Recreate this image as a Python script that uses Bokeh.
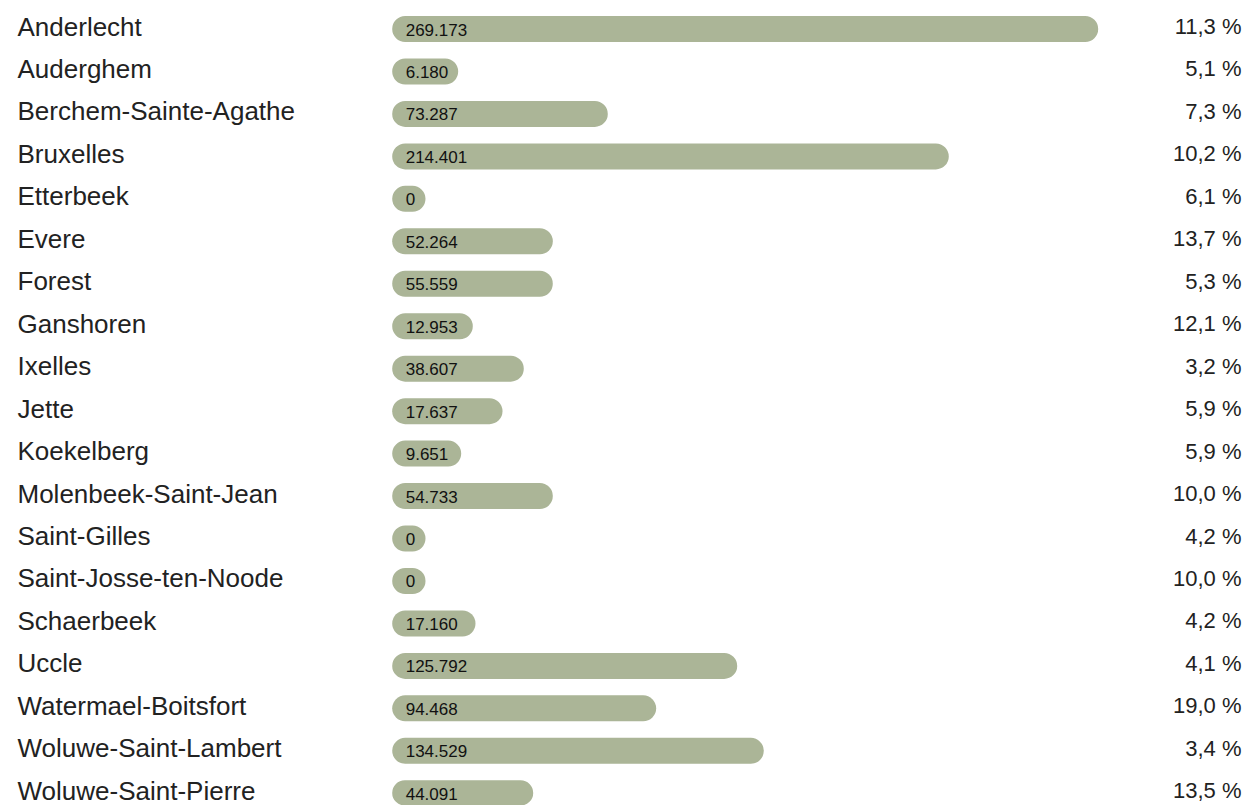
from bokeh.plotting import figure
from bokeh.models import ColumnDataSource, Range1d
from bokeh.core.properties import value
from bokeh.embed import file_html
from bokeh.resources import INLINE

communes = ["Anderlecht", "Auderghem", "Berchem-Sainte-Agathe", "Bruxelles", "Etterbeek",
            "Evere", "Forest", "Ganshoren", "Ixelles", "Jette", "Koekelberg",
            "Molenbeek-Saint-Jean", "Saint-Gilles", "Saint-Josse-ten-Noode", "Schaerbeek",
            "Uccle", "Watermael-Boitsfort", "Woluwe-Saint-Lambert", "Woluwe-Saint-Pierre"]
amounts = [269173, 6180, 73287, 214401, 0, 52264, 55559, 12953, 38607, 17637, 9651,
           54733, 0, 0, 17160, 125792, 94468, 134529, 44091]
# length of each drawn bar (same units as amounts)
bar_lengths = [269173, 25160, 82200, 212210, 12700, 61230, 61230, 30730, 50170, 42050,
               26310, 61230, 12700, 12700, 31760, 131540, 100650, 141680, 53760]
percentages = [11.3, 5.1, 7.3, 10.2, 6.1, 13.7, 5.3, 12.1, 3.2, 5.9, 5.9, 10.0, 4.2,
               10.0, 4.2, 4.1, 19.0, 3.4, 13.5]

W, H = 1251, 805
bar_x0_px = 391.7
units_per_px = 269173 / 706.0
row_px = 42.46
first_px = 28.5

n = len(communes)
xs = -bar_x0_px * units_per_px
xe = xs + W * units_per_px
y_top = -first_px / row_px
y_bot = (H - first_px) / row_px

src = ColumnDataSource(dict(
    y=list(range(n)),
    name=communes,
    bar=bar_lengths,
    zero=[0] * n,
    xs=[xs] * n,
    xe=[xe] * n,
    lab=[f"{a:,}".replace(",", ".") for a in amounts],
    pct=[f"{p:.1f}".replace(".", ",") + " %" for p in percentages],
))

p = figure(width=W, height=H, output_backend="svg", toolbar_location=None,
           x_range=Range1d(xs, xe), y_range=Range1d(y_bot, y_top),
           min_border=0, outline_line_color=None, background_fill_color="white")
p.axis.visible = False
p.grid.visible = False

p.hbar(y="y", left="zero", right="bar", height=26.0 / row_px, source=src,
       fill_color="#abb597", line_color=None, border_radius=13)

p.text(x="xs", y="y", text="name", source=src, x_offset=17, y_offset=-2.5,
       text_font=value("Liberation Sans"), text_font_size="26px",
       text_color="#222222", text_baseline="alphabetic", text_align="left")
p.text(x="zero", y="y", text="lab", source=src, x_offset=13.5, y_offset=0.5,
       text_font=value("Liberation Sans"), text_font_size="17px",
       text_color="#111111", text_baseline="alphabetic", text_align="left")
p.text(x="xe", y="y", text="pct", source=src, x_offset=-10, y_offset=-2.5,
       text_font=value("Liberation Sans"), text_font_size="22px",
       text_color="#222222", text_baseline="alphabetic", text_align="right")

open("out.html", "w").write(file_html(p, INLINE))
